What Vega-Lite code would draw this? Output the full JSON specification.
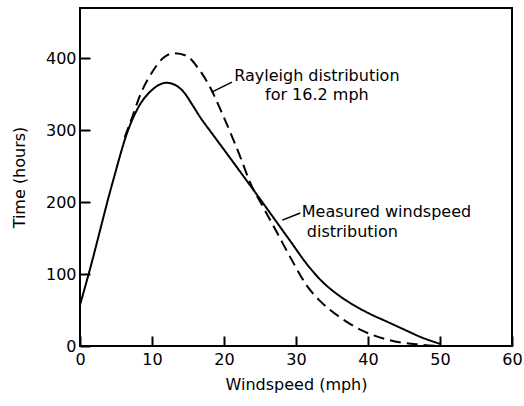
{
  "$schema": "https://vega.github.io/schema/vega-lite/v6.json",
  "width": 432,
  "height": 338,
  "autosize": "none",
  "padding": {"left": 80, "top": 8, "right": 12, "bottom": 60},
  "background": "white",
  "config": {
    "view": {"stroke": "black", "strokeWidth": 2},
    "font": "DejaVu Sans",
    "axis": {
      "domain": false,
      "grid": false,
      "labelFlush": false,
      "tickColor": "black",
      "tickWidth": 2,
      "tickSize": -10,
      "labelColor": "black",
      "labelFontSize": 16,
      "labelFont": "DejaVu Sans",
      "titleFont": "DejaVu Sans",
      "titleFontSize": 16,
      "titleFontWeight": "normal",
      "titleColor": "black"
    }
  },
  "datasets": {
    "curves": [
      {"series": "Measured", "speed": 0, "hours": 57},
      {"series": "Measured", "speed": 1.2, "hours": 100},
      {"series": "Measured", "speed": 4.6, "hours": 230},
      {"series": "Measured", "speed": 6.6, "hours": 298},
      {"series": "Measured", "speed": 8, "hours": 330},
      {"series": "Measured", "speed": 10, "hours": 356},
      {"series": "Measured", "speed": 12, "hours": 366},
      {"series": "Measured", "speed": 13.2, "hours": 363},
      {"series": "Measured", "speed": 14.5, "hours": 352},
      {"series": "Measured", "speed": 15.5, "hours": 337},
      {"series": "Measured", "speed": 16.7, "hours": 318},
      {"series": "Measured", "speed": 18.3, "hours": 296},
      {"series": "Measured", "speed": 20, "hours": 273},
      {"series": "Measured", "speed": 24.6, "hours": 210},
      {"series": "Measured", "speed": 29.2, "hours": 146},
      {"series": "Measured", "speed": 31.5, "hours": 114},
      {"series": "Measured", "speed": 33.4, "hours": 92},
      {"series": "Measured", "speed": 36, "hours": 70},
      {"series": "Measured", "speed": 38, "hours": 57},
      {"series": "Measured", "speed": 40, "hours": 46},
      {"series": "Measured", "speed": 42.6, "hours": 34},
      {"series": "Measured", "speed": 45, "hours": 23},
      {"series": "Measured", "speed": 47.2, "hours": 13},
      {"series": "Measured", "speed": 50, "hours": 3},
      {"series": "Rayleigh", "speed": 6.2, "hours": 290},
      {"series": "Rayleigh", "speed": 7.1, "hours": 314},
      {"series": "Rayleigh", "speed": 8.4, "hours": 350},
      {"series": "Rayleigh", "speed": 10.1, "hours": 382},
      {"series": "Rayleigh", "speed": 11.5, "hours": 400},
      {"series": "Rayleigh", "speed": 13, "hours": 407},
      {"series": "Rayleigh", "speed": 14.7, "hours": 404},
      {"series": "Rayleigh", "speed": 16.5, "hours": 385},
      {"series": "Rayleigh", "speed": 17.9, "hours": 363},
      {"series": "Rayleigh", "speed": 19.8, "hours": 322},
      {"series": "Rayleigh", "speed": 22.3, "hours": 262},
      {"series": "Rayleigh", "speed": 23.6, "hours": 228},
      {"series": "Rayleigh", "speed": 25.5, "hours": 192},
      {"series": "Rayleigh", "speed": 27.4, "hours": 157},
      {"series": "Rayleigh", "speed": 29.5, "hours": 118},
      {"series": "Rayleigh", "speed": 31.5, "hours": 84},
      {"series": "Rayleigh", "speed": 33.4, "hours": 62},
      {"series": "Rayleigh", "speed": 36.1, "hours": 40},
      {"series": "Rayleigh", "speed": 39.3, "hours": 21},
      {"series": "Rayleigh", "speed": 43, "hours": 8},
      {"series": "Rayleigh", "speed": 47.2, "hours": 2},
      {"series": "Rayleigh", "speed": 50, "hours": 0}
    ],
    "labels": [
      {"text": "Rayleigh distribution", "x": 32.9, "y": 375, "group": "center"},
      {"text": "for 16.2 mph", "x": 32.9, "y": 349, "group": "center"},
      {"text": "Measured windspeed", "x": 30.8, "y": 187, "group": "left"},
      {"text": "distribution", "x": 31.5, "y": 159, "group": "left"}
    ],
    "leaders": [
      {"x": 18.3, "y": 353, "x2": 21.1, "y2": 367},
      {"x": 28.1, "y": 175, "x2": 30.6, "y2": 185}
    ]
  },
  "layer": [
    {
      "data": {"name": "curves"},
      "mark": {"type": "line", "interpolate": "monotone", "strokeWidth": 2, "color": "black"},
      "encoding": {
        "x": {"field": "speed", "type": "quantitative", "scale": {"domain": [0, 60], "nice": false},
              "axis": {"values": [0, 10, 20, 30, 40, 50, 60], "title": "Windspeed (mph)", "labelPadding": 15, "titlePadding": 9}},
        "y": {"field": "hours", "type": "quantitative", "scale": {"domain": [0, 470], "nice": false},
              "axis": {"values": [0, 100, 200, 300, 400], "title": "Time (hours)", "labelPadding": 14, "titlePadding": 18}},
        "detail": {"field": "series"},
        "strokeDash": {"field": "series", "type": "nominal",
          "scale": {"domain": ["Measured", "Rayleigh"], "range": [[1, 0], [11, 6]]}, "legend": null}
      }
    },
    {
      "data": {"name": "leaders"},
      "mark": {"type": "rule", "color": "black", "strokeWidth": 1.5},
      "encoding": {
        "x": {"field": "x", "type": "quantitative"},
        "y": {"field": "y", "type": "quantitative"},
        "x2": {"field": "x2"},
        "y2": {"field": "y2"}
      }
    },
    {
      "data": {"name": "labels"},
      "transform": [{"filter": "datum.group === 'center'"}],
      "mark": {"type": "text", "fontSize": 16, "color": "black", "baseline": "middle", "align": "center", "font": "DejaVu Sans"},
      "encoding": {
        "x": {"field": "x", "type": "quantitative"},
        "y": {"field": "y", "type": "quantitative"},
        "text": {"field": "text"}
      }
    },
    {
      "data": {"name": "labels"},
      "transform": [{"filter": "datum.group === 'left'"}],
      "mark": {"type": "text", "fontSize": 16, "color": "black", "baseline": "middle", "align": "left", "font": "DejaVu Sans"},
      "encoding": {
        "x": {"field": "x", "type": "quantitative"},
        "y": {"field": "y", "type": "quantitative"},
        "text": {"field": "text"}
      }
    }
  ]
}
